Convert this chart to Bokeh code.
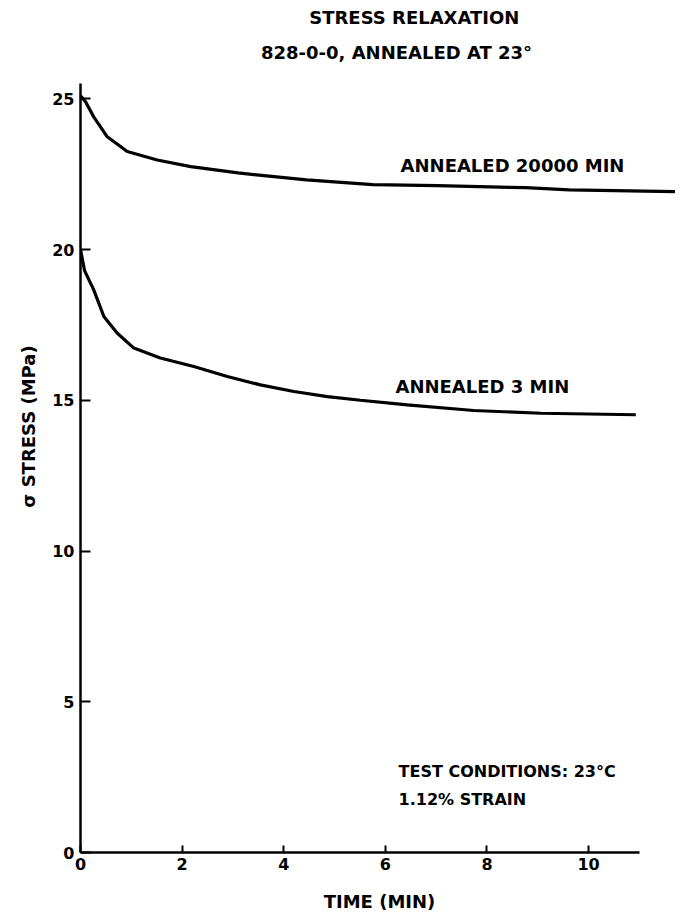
from bokeh.plotting import figure
from bokeh.models import Range1d, Label, FixedTicker
from bokeh.embed import file_html
from bokeh.resources import INLINE

# ---- data ----
time_20000 = [0.0, 0.1, 0.26, 0.52, 0.92, 1.51, 2.17, 3.1, 4.45, 5.75, 7.03, 8.76, 9.62, 11.7]
stress_20000 = [25.1, 24.9, 24.4, 23.75, 23.25, 22.97, 22.75, 22.54, 22.31, 22.15, 22.12, 22.05, 21.98, 21.92]

time_3 = [0.0, 0.08, 0.26, 0.46, 0.72, 1.05, 1.57, 2.23, 2.89, 3.54, 4.2, 4.86, 5.51, 6.43, 7.74, 9.06, 10.93]
stress_3 = [20.0, 19.3, 18.66, 17.78, 17.23, 16.73, 16.40, 16.12, 15.79, 15.51, 15.29, 15.12, 15.0, 14.85, 14.66, 14.57, 14.52]

x_ticks = [0, 2, 4, 6, 8, 10]
y_ticks = [0, 5, 10, 15, 20, 25]

title_text = "STRESS RELAXATION"
subtitle_text = "828-0-0, ANNEALED AT 23°"
series_labels = ["ANNEALED 20000 MIN", "ANNEALED 3 MIN"]
note_lines = ["TEST CONDITIONS: 23°C", "1.12% STRAIN"]
x_label = "TIME (MIN)"
y_label = "σ STRESS (MPa)"

FONT = "DejaVu Sans"

p = figure(width=680, height=916, output_backend="svg", toolbar_location=None,
           x_range=Range1d(0, 11.77), y_range=Range1d(0, 28.26),
           min_border_left=80, min_border_right=2, min_border_top=0, min_border_bottom=64)
p.outline_line_color = None
p.grid.visible = False
p.background_fill_color = "white"

for ax in (p.xaxis, p.yaxis):
    ax.axis_line_width = 2.5
    ax.axis_line_color = "black"
    ax.major_tick_line_width = 2
    ax.major_tick_line_color = "black"
    ax.minor_tick_line_color = None
    ax.major_tick_out = 0
    ax.major_label_text_font = FONT
    ax.major_label_text_font_style = "bold"
    ax.major_label_text_font_size = "16px"
    ax.major_label_text_color = "black"
    ax.axis_label_text_font = FONT
    ax.axis_label_text_font_style = "bold"
    ax.axis_label_text_font_size = "18px"
    ax.axis_label_text_color = "black"

p.xaxis.ticker = FixedTicker(ticks=x_ticks)
p.yaxis.ticker = FixedTicker(ticks=y_ticks)
p.xaxis.bounds = (0, 11.0)
p.yaxis.bounds = (0, 25.5)
p.xaxis.major_tick_in = 7
p.yaxis.major_tick_in = 10
p.xaxis.major_label_standoff = 5
p.yaxis.major_label_standoff = 6
p.xaxis.axis_label = x_label
p.yaxis.axis_label = y_label
p.xaxis.axis_label_standoff = 18
p.yaxis.axis_label_standoff = 10

p.line(time_20000, stress_20000, line_color="black", line_width=3.2)
p.line(time_3, stress_3, line_color="black", line_width=3.2)

def add_label(x, y, text, size="17px", align="left"):
    p.add_layout(Label(x=x, y=y, text=text, text_font=FONT, text_font_style="bold",
                       text_font_size=size, text_color="black",
                       text_align=align, text_baseline="middle"))

add_label(6.57, 27.68, title_text, "18px", "center")
add_label(6.22, 26.52, subtitle_text, "18px", "center")
add_label(6.3, 22.79, series_labels[0], "18px")
add_label(6.2, 15.46, series_labels[1], "18px")
add_label(6.26, 2.69, note_lines[0], "16px")
add_label(6.26, 1.75, note_lines[1], "16px")

open("out.html", "w").write(file_html(p, INLINE))
